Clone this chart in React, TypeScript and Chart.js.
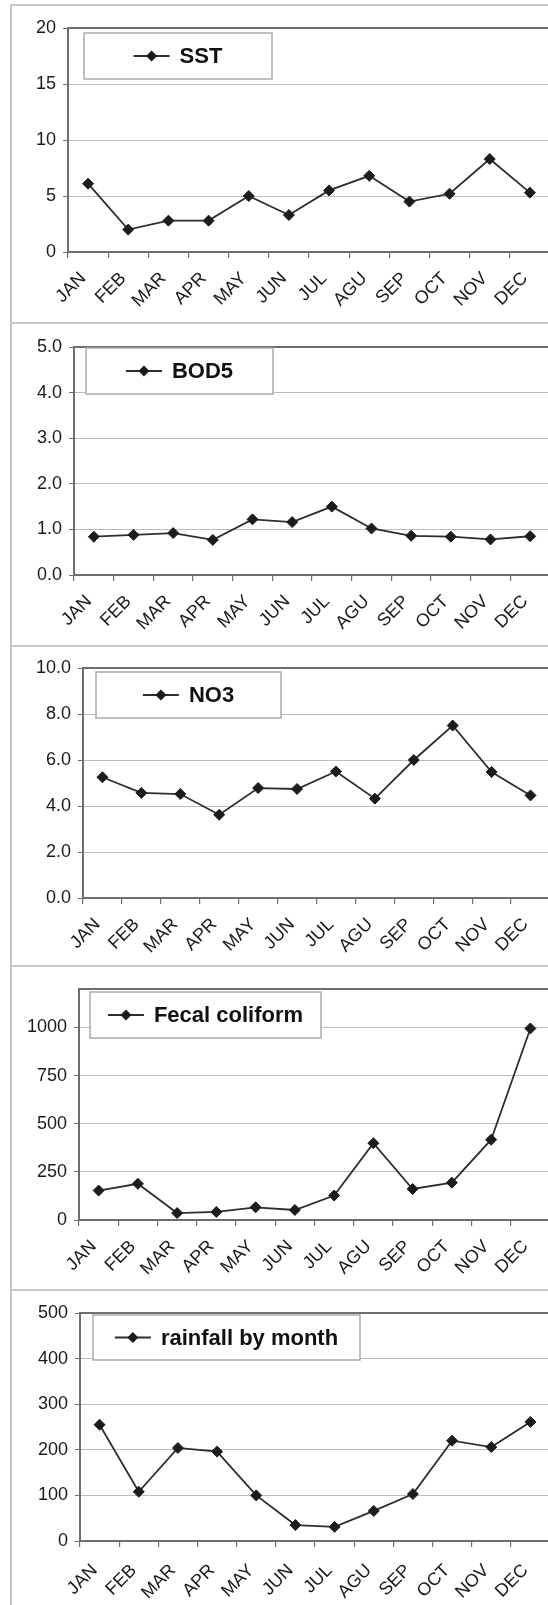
import React, { useEffect, useRef } from 'react';
import { Chart, registerables } from 'chart.js';

Chart.register(...registerables);

const months = ['JAN', 'FEB', 'MAR', 'APR', 'MAY', 'JUN', 'JUL', 'AGU', 'SEP', 'OCT', 'NOV', 'DEC'];

const sstValues = [6.1, 2.0, 2.8, 2.8, 5.0, 3.3, 5.5, 6.8, 4.5, 5.2, 8.3, 5.3];
const bod5Values = [0.84, 0.88, 0.92, 0.77, 1.22, 1.16, 1.5, 1.02, 0.86, 0.84, 0.78, 0.85];
const no3Values = [5.25, 4.57, 4.52, 3.62, 4.78, 4.74, 5.5, 4.32, 6.0, 7.5, 5.48, 4.46];
const fecalValues = [153, 188, 36, 42, 66, 52, 127, 399, 161, 194, 417, 995];
const rainfallValues = [255, 108, 204, 196, 100, 35, 31, 66, 103, 220, 206, 261];

const sstTicks = [0, 5, 10, 15, 20];
const bod5Ticks = [0, 1, 2, 3, 4, 5];
const no3Ticks = [0, 2, 4, 6, 8, 10];
const fecalTicks = [0, 250, 500, 750, 1000];
const rainfallTicks = [0, 100, 200, 300, 400, 500];

const FONT = '"Liberation Sans", Arial, Helvetica, sans-serif';
const CANVAS_W = 560;

type PanelCfg = {
  label: string;
  values: number[];
  ticks: number[];
  min: number;
  max: number;
  decimals: number;
  top: number;
  height: number;
  plotTop: number;
  plotBottom: number;
  plotLeft: number;
  labelPad: number;
  legend: { x: number; y: number; w: number; h: number };
};

const panels: PanelCfg[] = [
  { label: 'SST', values: sstValues, ticks: sstTicks, min: 0, max: 20, decimals: 0,
    top: 5, height: 318, plotTop: 23, plotBottom: 247, plotLeft: 68, labelPad: 10,
    legend: { x: 84, y: 28, w: 188, h: 46 } },
  { label: 'BOD5', values: bod5Values, ticks: bod5Ticks, min: 0, max: 5, decimals: 1,
    top: 323, height: 323, plotTop: 24, plotBottom: 252, plotLeft: 74, labelPad: 10,
    legend: { x: 86, y: 25, w: 187, h: 46 } },
  { label: 'NO3', values: no3Values, ticks: no3Ticks, min: 0, max: 10, decimals: 1,
    top: 646, height: 320, plotTop: 22, plotBottom: 252, plotLeft: 83, labelPad: 10,
    legend: { x: 96, y: 26, w: 185, h: 46 } },
  { label: 'Fecal coliform', values: fecalValues, ticks: fecalTicks, min: 0, max: 1200, decimals: 0,
    top: 966, height: 324, plotTop: 23, plotBottom: 254, plotLeft: 79, labelPad: 10,
    legend: { x: 90, y: 26, w: 231, h: 46 } },
  { label: 'rainfall by month', values: rainfallValues, ticks: rainfallTicks, min: 0, max: 500, decimals: 0,
    top: 1290, height: 320, plotTop: 23, plotBottom: 251, plotLeft: 80, labelPad: 13,
    legend: { x: 93, y: 25, w: 267, h: 45 } },
];

const boxLegendPlugin = {
  id: 'boxLegend',
  afterDraw(chart: any, _args: any, opts: any) {
    const ctx = chart.ctx as CanvasRenderingContext2D;
    const area = chart.chartArea;
    ctx.save();
    // top border of plot area
    ctx.strokeStyle = '#6e6e6e';
    ctx.lineWidth = 2;
    ctx.beginPath();
    ctx.moveTo(area.left, area.top);
    ctx.lineTo(area.right, area.top);
    ctx.stroke();

    const { x, y, w, h } = opts;
    ctx.fillStyle = '#ffffff';
    ctx.fillRect(x, y, w, h);
    ctx.strokeStyle = '#ababab';
    ctx.lineWidth = 1.5;
    ctx.strokeRect(x, y, w, h);

    const ds = chart.data.datasets[0];
    const label = String(ds.label);
    ctx.font = `bold 22px ${FONT}`;
    const tw = ctx.measureText(label).width;
    const lineLen = 36;
    const gap = 10;
    const total = lineLen + gap + tw;
    const sx = x + w / 2 - total / 2;
    const cy = y + h / 2;
    ctx.strokeStyle = '#2e2e2e';
    ctx.lineWidth = 1.8;
    ctx.beginPath();
    ctx.moveTo(sx, cy);
    ctx.lineTo(sx + lineLen, cy);
    ctx.stroke();
    const mx = sx + lineLen / 2;
    const r = 5.5;
    ctx.fillStyle = '#1c1c1c';
    ctx.beginPath();
    ctx.moveTo(mx - r, cy);
    ctx.lineTo(mx, cy - r);
    ctx.lineTo(mx + r, cy);
    ctx.lineTo(mx, cy + r);
    ctx.closePath();
    ctx.fill();
    ctx.fillStyle = '#111111';
    ctx.textAlign = 'left';
    ctx.textBaseline = 'middle';
    ctx.fillText(label, sx + lineLen + gap, cy + 1);
    ctx.restore();
  },
};

function LinePanel({ cfg }: { cfg: PanelCfg }) {
  const ref = useRef<HTMLCanvasElement>(null);
  useEffect(() => {
    const canvas = ref.current;
    if (!canvas) return;
    const chart = new Chart(canvas, {
      type: 'line',
      data: {
        labels: months,
        datasets: [
          {
            label: cfg.label,
            data: cfg.values,
            borderColor: '#2e2e2e',
            borderWidth: 1.8,
            pointStyle: 'rectRot',
            pointRadius: 5.5,
            pointBackgroundColor: '#1c1c1c',
            pointBorderColor: '#1c1c1c',
            pointBorderWidth: 1,
            tension: 0,
            fill: false,
          },
        ],
      },
      options: {
        responsive: false,
        animation: false,
        devicePixelRatio: 1,
        layout: { padding: { top: cfg.plotTop, right: 10, bottom: 0, left: 0 } },
        plugins: {
          legend: { display: false },
          tooltip: { enabled: false },
          boxLegend: cfg.legend,
        } as any,
        scales: {
          x: {
            type: 'category',
            offset: true,
            grid: {
              offset: true,
              drawOnChartArea: false,
              drawTicks: true,
              tickLength: 6,
              color: '#6e6e6e',
              lineWidth: 1.2,
            },
            border: { display: true, color: '#6e6e6e', width: 2 },
            ticks: {
              autoSkip: false,
              minRotation: 45,
              maxRotation: 45,
              padding: cfg.labelPad,
              labelOffset: -5,
              color: '#1a1a1a',
              font: { size: 18, family: FONT },
            },
            afterFit: (s: any) => {
              s.height = cfg.height - cfg.plotBottom;
            },
          },
          y: {
            type: 'linear',
            min: cfg.min,
            max: cfg.max,
            grid: {
              color: '#bdbdbd',
              lineWidth: 1,
              tickColor: '#6e6e6e',
              tickLength: 5,
            },
            border: { display: true, color: '#6e6e6e', width: 2 },
            ticks: {
              padding: 7,
              color: '#1a1a1a',
              font: { size: 18, family: FONT },
              callback: (v: any) => Number(v).toFixed(cfg.decimals),
            },
            afterBuildTicks: (s: any) => {
              s.ticks = cfg.ticks.map((v) => ({ value: v }));
            },
            afterFit: (s: any) => {
              s.width = cfg.plotLeft;
            },
          },
        },
      } as any,
      plugins: [boxLegendPlugin],
    });
    return () => chart.destroy();
  }, [cfg]);

  return (
    <canvas
      ref={ref}
      width={CANVAS_W}
      height={cfg.height}
      style={{ position: 'absolute', left: 0, top: cfg.top, width: CANVAS_W, height: cfg.height }}
    />
  );
}

export default function App() {
  return (
    <div
      style={{
        position: 'absolute',
        left: 0,
        top: 0,
        width: 548,
        height: 1605,
        overflow: 'hidden',
        background: '#ffffff',
      }}
    >
      {panels.map((p, i) => (
        <div
          key={'frame' + i}
          style={{
            position: 'absolute',
            left: 10,
            top: p.top - 1,
            width: 600,
            height: p.height,
            borderTop: '2px solid #c6c6c6',
            borderLeft: '2px solid #c6c6c6',
            boxSizing: 'border-box',
          }}
        />
      ))}
      {panels.map((p, i) => (
        <LinePanel key={'chart' + i} cfg={p} />
      ))}
    </div>
  );
}
